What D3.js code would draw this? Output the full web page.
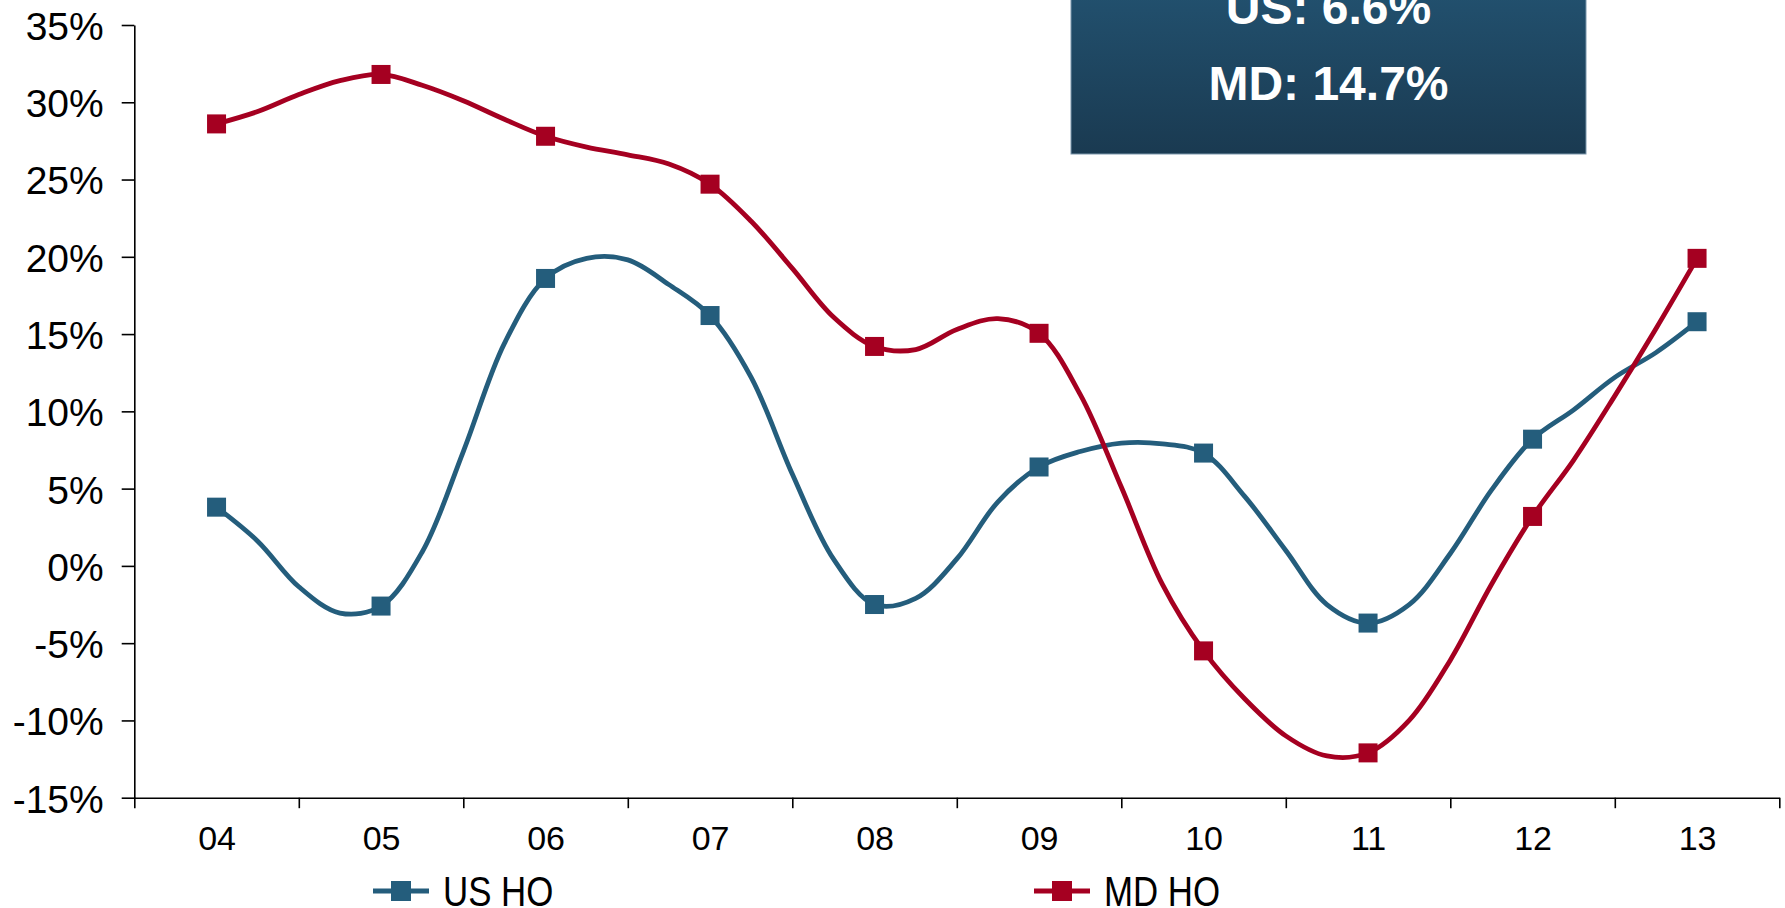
<!DOCTYPE html>
<html>
<head>
<meta charset="utf-8">
<script src="https://cdn.jsdelivr.net/npm/d3@7"></script>
<style>
    html, body { margin: 0; padding: 0; background: #fff; }
    svg { display: block; font-family: "Liberation Sans", Arial, sans-serif; }
    .tick text { fill: #000; }
</style>
</head>
<body>
<svg id="chart" width="1785" height="908"></svg>
<script>
// Year labels on the category axis.
var years = ['04', '05', '06', '07', '08', '09', '10', '11', '12', '13'];

// Quarterly growth (%), four points per year, markers on each year.
var usHO = [
    3.8, 1.6, -1.35, -3.05,
    -2.6, 0.9, 7.4, 14.4,
    18.6, 19.9, 19.8, 18.2,
    16.2, 12.2, 5.95, 0.45,
    -2.5, -2.1, 0.45, 4.15,
    6.4, 7.4, 7.95, 7.9,
    7.3, 4.5, 1.0, -2.5,
    -3.7, -2.5, 0.8, 4.9,
    8.2, 10.1, 12.2, 13.8,
    15.8
];
var mdHO = [
    28.6, 29.4, 30.5, 31.4,
    31.8, 31.1, 30.1, 28.9,
    27.8, 27.1, 26.6, 26.0,
    24.7, 22.3, 19.25, 16.1,
    14.2, 14.0, 15.3, 16.0,
    15.05, 11.1, 5.1, -1.2,
    -5.5, -8.6, -11.0, -12.3,
    -12.1, -10.0, -6.1, -1.2,
    3.2, 6.85, 11.0, 15.35,
    19.9
];
var yTicks = [-15, -10, -5, 0, 5, 10, 15, 20, 25, 30, 35];
var seriesNames = ['US HO', 'MD HO'];
var calloutLines = ['US: 6.6%', 'MD: 14.7%'];

var colors = { us: '#245d7c', md: '#a50021' };

var svg = d3.select('#chart');

var x = d3.scaleLinear().domain([-0.5, years.length - 0.5]).range([134.3, 1779.3]);
var y = d3.scaleLinear().domain([-15, 35]).range([797.7, 25]);

// Callout box (top is cut off by the page edge).
var defs = svg.append('defs');
var grad = defs.append('linearGradient')
    .attr('id', 'boxGrad')
    .attr('x1', 0).attr('y1', 0).attr('x2', 0).attr('y2', 1);
grad.append('stop').attr('offset', '0%').attr('stop-color', '#22516f');
grad.append('stop').attr('offset', '100%').attr('stop-color', '#1a3a51');

var box = svg.append('g').attr('class', 'callout');
box.append('rect')
    .attr('x', 1071).attr('y', -12)
    .attr('width', 515).attr('height', 166)
    .attr('fill', 'url(#boxGrad)')
    .attr('stroke', '#7a96ab')
    .attr('stroke-width', 1);
box.selectAll('text')
    .data(calloutLines)
    .join('text')
    .attr('x', 1328.5)
    .attr('y', (d, i) => 24 + i * 76)
    .attr('text-anchor', 'middle')
    .attr('fill', '#fff')
    .attr('font-weight', 'bold')
    .attr('font-size', 48)
    .text(d => d);

// Y axis.
svg.append('g')
    .attr('transform', 'translate(134.3,0)')
    .call(d3.axisLeft(y)
        .tickValues(yTicks)
        .tickSize(12.6)
        .tickSizeOuter(0)
        .tickPadding(18)
        .tickFormat(d => d + '%'))
    .call(g => g.selectAll('text').attr('font-size', 39).attr('dy', '0.37em'))
    .call(g => g.selectAll('line, path').attr('stroke', '#000').attr('stroke-width', 1.6));

// X axis: ticks on the category boundaries, labels in the middle.
svg.append('g')
    .attr('transform', 'translate(0,797.7)')
    .call(d3.axisBottom(x)
        .tickValues(d3.range(-0.5, years.length, 1))
        .tickSize(10.5)
        .tickSizeOuter(0)
        .tickFormat(''))
    .call(g => g.selectAll('line, path').attr('stroke', '#000').attr('stroke-width', 1.6));

svg.append('g')
    .attr('transform', 'translate(0,797.7)')
    .call(d3.axisBottom(x)
        .tickValues(d3.range(0, years.length))
        .tickSize(0)
        .tickPadding(28)
        .tickFormat(i => years[i]))
    .call(g => g.select('.domain').remove())
    .call(g => g.selectAll('text').attr('font-size', 34));

// Lines.
var line = d3.line()
    .x((d, i) => x(i / 4))
    .y(d => y(d))
    .curve(d3.curveCatmullRom.alpha(0.5));

var series = [
    { name: seriesNames[0], values: usHO, color: colors.us },
    { name: seriesNames[1], values: mdHO, color: colors.md }
];

series.forEach(function (s) {
    svg.append('path')
        .datum(s.values)
        .attr('fill', 'none')
        .attr('stroke', s.color)
        .attr('stroke-width', 4.8)
        .attr('stroke-linejoin', 'round')
        .attr('d', line);

    svg.append('g')
        .selectAll('rect')
        .data(s.values.filter((d, i) => i % 4 === 0))
        .join('rect')
        .attr('x', (d, i) => x(i) - 9.5)
        .attr('y', d => y(d) - 9.5)
        .attr('width', 19)
        .attr('height', 19)
        .attr('fill', s.color);
});

// Legend.
var legendPos = [401, 1062];
var legend = svg.append('g').attr('class', 'legend');
series.forEach(function (s, i) {
    var cx = legendPos[i], cy = 891;
    legend.append('line')
        .attr('x1', cx - 28).attr('x2', cx + 28)
        .attr('y1', cy).attr('y2', cy)
        .attr('stroke', s.color)
        .attr('stroke-width', 5);
    legend.append('rect')
        .attr('x', cx - 10).attr('y', cy - 10)
        .attr('width', 20).attr('height', 20)
        .attr('fill', s.color);
    legend.append('text')
        .attr('transform', 'translate(' + (cx + 42) + ',906) scale(0.83,1)')
        .attr('font-size', 42)
        .attr('fill', '#000')
        .text(s.name);
});
</script>
</body>
</html>
